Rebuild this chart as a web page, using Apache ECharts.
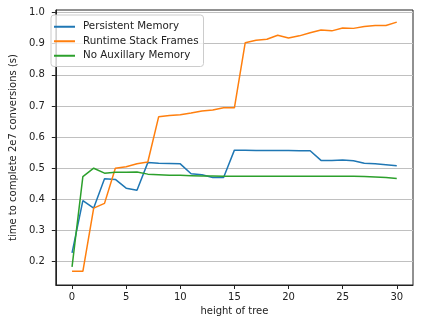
<!DOCTYPE html>
<html>
<head>
<meta charset="utf-8">
<script src="https://cdn.jsdelivr.net/npm/echarts@6/dist/echarts.min.js"></script>
<style>
  html, body { margin: 0; padding: 0; background: #fff; }
  #chart { width: 423px; height: 324px; }
</style>
</head>
<body>
<div id="chart"></div>
<script>
// tree heights 0..30
const heights = [0, 1, 2, 3, 4, 5, 6, 7, 8, 9, 10, 11, 12, 13, 14, 15, 16, 17, 18, 19, 20, 21, 22, 23, 24, 25, 26, 27, 28, 29, 30];

const persistentMemory = [0.228, 0.396, 0.372, 0.466, 0.464, 0.436, 0.429, 0.518, 0.516, 0.515, 0.514, 0.482, 0.479, 0.470, 0.470,
  0.558, 0.558, 0.557, 0.557, 0.557, 0.557, 0.556, 0.556, 0.525, 0.525, 0.526, 0.524, 0.516, 0.514, 0.511, 0.508];

const runtimeStackFrames = [0.169, 0.169, 0.372, 0.387, 0.500, 0.505, 0.514, 0.520, 0.665, 0.669, 0.672, 0.677, 0.684, 0.687, 0.694,
  0.694, 0.903, 0.911, 0.914, 0.927, 0.918, 0.925, 0.935, 0.944, 0.941, 0.950, 0.949, 0.955, 0.958, 0.958, 0.969];

const noAuxMemory = [0.183, 0.473, 0.500, 0.484, 0.487, 0.487, 0.488, 0.481, 0.479, 0.477, 0.477, 0.476, 0.475, 0.475, 0.474,
  0.474, 0.474, 0.474, 0.474, 0.474, 0.474, 0.474, 0.474, 0.474, 0.474, 0.474, 0.474, 0.473, 0.472, 0.470, 0.467];

const seriesNames = ["Persistent Memory", "Runtime Stack Frames", "No Auxillary Memory"];
const xTicks = [0, 5, 10, 15, 20, 25, 30];
const yTicks = [0.2, 0.3, 0.4, 0.5, 0.6, 0.7, 0.8, 0.9, 1.0];

const colorList = ["#1f77b4", "#ff7f0e", "#2ca02c"];
const font = "'DejaVu Sans'";
const fontSize = 10;

var dom = document.getElementById("chart");
var chart = echarts.init(dom, null, { renderer: "canvas" });

const allData = [persistentMemory, runtimeStackFrames, noAuxMemory];
var seriesList = allData.map((vals, idx) => {
  return {
    type: "line",
    name: seriesNames[idx],
    data: heights.map((h, i) => [h, vals[i]]),
    showSymbol: false,
    symbol: "none",
    lineStyle: { color: colorList[idx], width: 1.5 },
    itemStyle: { color: colorList[idx] },
    z: 3 + idx,
  };
});

var option = {
  animation: false,
  backgroundColor: "#fff",
  textStyle: { fontFamily: font },
  legend: {
    orient: "vertical",
    left: 51,
    top: 15,
    padding: [6, 5, 5, 3],
    itemGap: 3,
    itemWidth: 21,
    itemHeight: 2,
    icon: "rect",
    backgroundColor: "rgba(255,255,255,0.8)",
    borderColor: "#cccccc",
    borderWidth: 1,
    borderRadius: 3,
    textStyle: { fontFamily: font, fontSize: 10.3, color: "#222", lineHeight: 11.5, padding: [0, 0, 0, 3] },
    data: seriesNames,
  },
  grid: {
    show: true,
    left: 46,
    right: 10,
    top: 10,
    bottom: 39,
    borderColor: "#222",
    borderWidth: 1,
    containLabel: false,
  },
  xAxis: {
    type: "value",
    min: -1.5,
    max: 31.5,
    name: "height of tree",
    nameLocation: "middle",
    nameGap: 21,
    nameTextStyle: { fontFamily: font, fontSize: fontSize, color: "#222" },
    axisLine: { show: true, onZero: false, lineStyle: { color: "#222", width: 1 } },
    axisTick: { show: true, length: 4, customValues: xTicks, lineStyle: { color: "#222" } },
    axisLabel: { customValues: xTicks, margin: 7, fontFamily: font, fontSize: fontSize, color: "#222" },
    splitLine: { show: false },
  },
  yAxis: {
    type: "value",
    min: 0.125,
    max: 1.008,
    name: "time to complete 2e7 conversions (s)",
    nameLocation: "middle",
    nameRotate: 90,
    nameGap: 28,
    nameTextStyle: { fontFamily: font, fontSize: fontSize, color: "#222" },
    axisLine: { show: true, onZero: false, lineStyle: { color: "#222", width: 1 } },
    axisTick: { show: true, length: 4, customValues: yTicks, lineStyle: { color: "#222" } },
    axisLabel: {
      customValues: yTicks,
      margin: 11,
      fontFamily: font,
      fontSize: fontSize,
      color: "#222",
      formatter: (v) => v.toFixed(1),
    },
    splitLine: { show: true, lineStyle: { color: "#c0c0c0", width: 1 } },
  },
  series: seriesList,
};
option && chart.setOption(option);
</script>
</body>
</html>
